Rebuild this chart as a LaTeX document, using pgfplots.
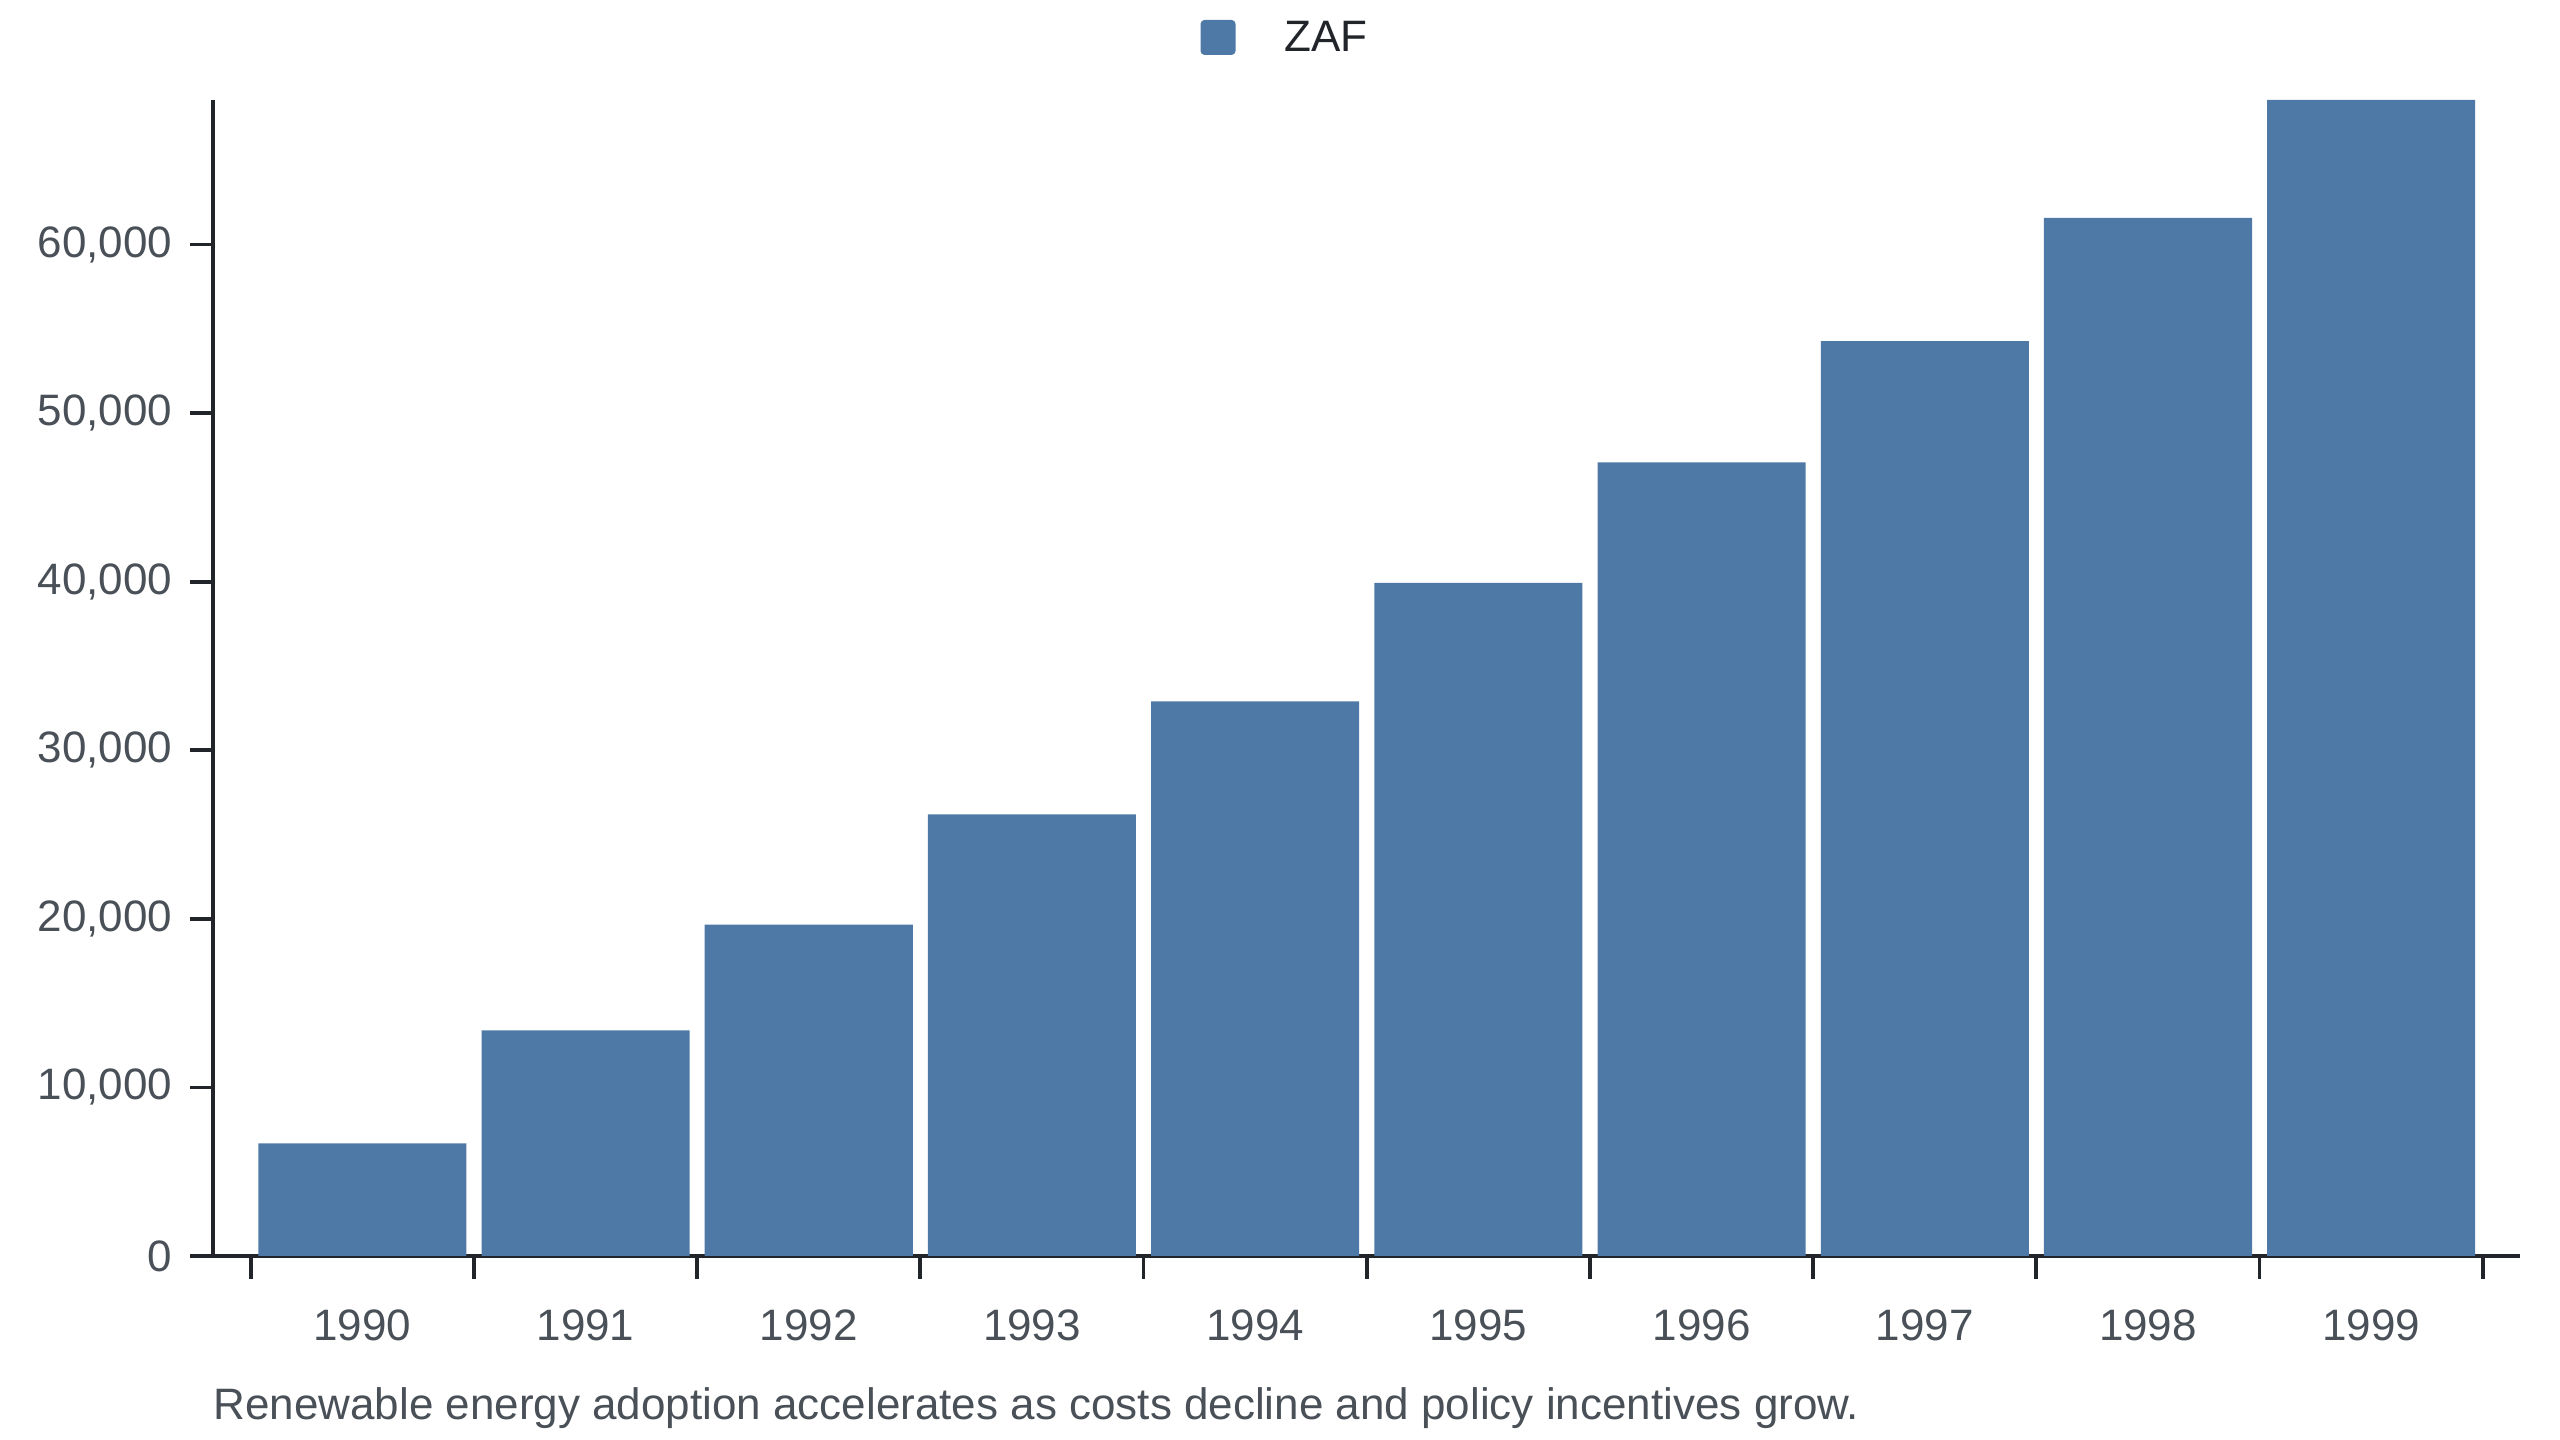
\documentclass[border=0pt]{standalone}
\usepackage{pgfplots}
\pgfplotsset{compat=1.18}
\usepackage{fontspec}
\setmainfont{Liberation Sans}
\definecolor{barblue}{HTML}{4E79A7}
\definecolor{axisdark}{HTML}{212529}
\definecolor{labelgray}{HTML}{495057}
\newcommand\chartfont{\fontsize{22pt}{26pt}\selectfont}
\begin{document}
\begin{tikzpicture}
\useasboundingbox (0,0) rectangle (1280pt,720pt);
\begin{axis}[
  at={(106.5pt,92pt)}, anchor=south west,
  scale only axis, width=1153.5pt, height=578pt,
  xmin=-0.669, xmax=9.666, ymin=0, ymax=68570,
  axis lines*=left,
  axis line style={line width=2pt, color=axisdark},
  clip=false,
  ybar, bar width=0.932,
  xtick={0,...,9},
  xticklabels={1990,1991,1992,1993,1994,1995,1996,1997,1998,1999},
  minor xtick={-0.5,0.5,...,9.5},
  ytick={0,10000,20000,30000,40000,50000,60000},
  scaled y ticks=false,
  /pgf/number format/.cd, fixed, 1000 sep={,}, assume math mode=true, /pgfplots/.cd,
  tick align=outside,
  major tick length=11.5pt,
  minor tick length=11.5pt,
  x tick style={draw=none},
  minor x tick style={draw=axisdark, line width=1.9pt},
  y tick style={draw=axisdark, line width=1.9pt},
  xticklabel style={font=\chartfont, text=labelgray, inner sep=0pt, anchor=north, yshift=-15pt},
  yticklabel style={font=\chartfont, text=labelgray, inner sep=0pt, anchor=east, xshift=-8.6pt},
  legend style={at={(0.4281,1.0541)}, anchor=west, draw=none, fill=none,
    inner sep=0pt, outer sep=0pt, font=\chartfont, text=axisdark,
    nodes={inner sep=0pt}},
  legend image code/.code={%
    \fill[barblue, rounded corners=2pt] (0pt,-8.75pt) rectangle (17.5pt,8.75pt);
    \path (42pt,0pt);},
]
\addplot[fill=barblue, draw=none] coordinates {
  (0,6680) (1,13390) (2,19650) (3,26200) (4,32900)
  (5,39920) (6,47080) (7,54270) (8,61570) (9,68570)
};
\addlegendentry{ZAF}
\end{axis}
\node[anchor=base west, inner sep=0pt, font=\chartfont, text=labelgray] at (106.5pt,10pt)
  {Renewable energy adoption accelerates as costs decline and policy incentives grow.};
\end{tikzpicture}
\end{document}
